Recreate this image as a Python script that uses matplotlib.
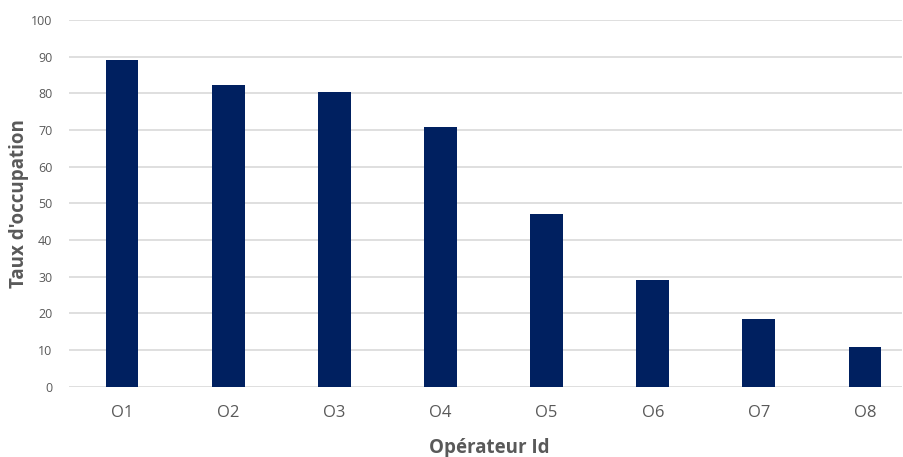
import matplotlib.pyplot as plt
import numpy as np

operateurs = ['O1', 'O2', 'O3', 'O4', 'O5', 'O6', 'O7', 'O8']
taux = [89.0, 82.4, 80.3, 70.9, 47.2, 29.2, 18.4, 10.8]

plt.rcParams['font.family'] = ['Open Sans', 'DejaVu Sans']

fig = plt.figure(figsize=(9.04, 4.57), dpi=100)
ax = fig.add_axes([0.0763, 0.1538, 0.9217, 0.8022])

x = np.arange(len(operateurs))
ax.bar(x, taux, width=0.31, color='#002060', zorder=3)

ax.set_ylim(0, 100)
ax.set_xlim(-0.5, 7.35)
ax.set_yticks(range(0, 101, 10))
ax.set_xticks(x)
ax.set_xticklabels(operateurs)
ax.grid(axis='y', color='#d9d9d9', linewidth=1.2, zorder=0)
for s in ax.spines.values():
    s.set_visible(False)
ax.tick_params(axis='both', length=0, colors='#595959')
ax.tick_params(axis='y', labelsize=9, pad=12)
ax.tick_params(axis='x', labelsize=12, pad=13)

ax.set_xlabel('Opérateur Id', fontsize=13.5, fontweight='bold', color='#595959')
ax.set_ylabel("Taux d'occupation", fontsize=13.5, fontweight='bold', color='#595959')
ax.xaxis.set_label_coords(0.505, -0.14)
ax.yaxis.set_label_coords(-0.048, 0.5)

fig.savefig('out.png', dpi=100)
